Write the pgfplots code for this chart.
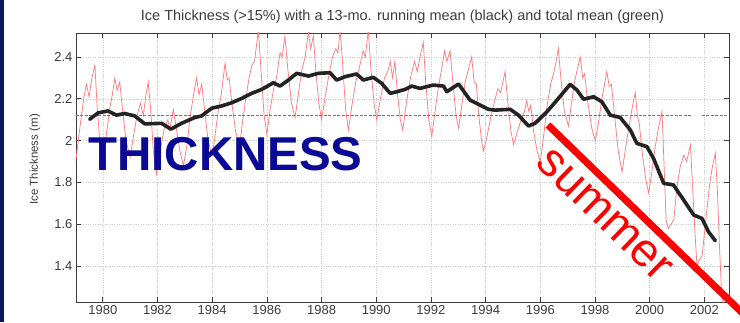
\documentclass[border=0pt]{standalone}
\usepackage{fontspec}
\setmainfont{Liberation Sans}
\usepackage{pgfplots}
\pgfplotsset{compat=1.18}
\definecolor{navy}{RGB}{8,24,96}
\definecolor{thick}{RGB}{10,10,150}
\definecolor{redline}{RGB}{255,125,125}
\definecolor{meanline}{RGB}{35,35,35}
\definecolor{greenline}{RGB}{40,170,60}
\definecolor{axgray}{RGB}{60,60,60}
\begin{document}
\begin{tikzpicture}
\useasboundingbox (-76pt,-20pt) rectangle (664pt,302pt);
\fill[white] (-76pt,-20pt) rectangle (664pt,302pt);
\fill[navy] (-76pt,-20pt) rectangle (-72pt,302pt);
\begin{axis}[
  scale only axis, width=653pt, height=269pt,
  xmin=1979.02, xmax=2002.9, ymin=1.228, ymax=2.515,
  axis line style={axgray, line width=0.9pt},
  tick style={axgray, line width=0.7pt},
  major tick length=5pt,
  tick align=inside,
  xtick={1980,1982,...,2002},
  ytick={1.4,1.6,1.8,2,2.2,2.4},
  /pgf/number format/assume math mode=true,
  x tick label style={/pgf/number format/1000 sep={}, font=\fontsize{13}{13}\selectfont, text=axgray},
  y tick label style={font=\fontsize{13}{13}\selectfont, text=axgray},
  grid=major, grid style={dotted, gray!40, line width=0.5pt},
  title={Ice Thickness (>15\%) with a 13-mo. running mean (black) and total mean (green)},
  title style={at={(0.5,1)}, anchor=base, yshift=6pt, font=\fontsize{14.5}{15}\selectfont, text=axgray},
  ylabel={Ice Thickness (m)},
  every axis y label/.style={at={(axis description cs:-0.063,0.53)}, anchor=center, rotate=90, font=\fontsize{11.5}{11.5}\selectfont, text=axgray},
]
\addplot[redline, line width=0.75pt] coordinates {
(1979.0,1.89) (1979.15,2.05) (1979.3,2.20) (1979.4,2.27) (1979.5,2.21) (1979.6,2.30) (1979.71,2.36) (1979.8,2.15) (1979.9,1.98) (1980.0,1.88)
(1980.12,2.02) (1980.25,2.15) (1980.35,2.22) (1980.44,2.30) (1980.52,2.24) (1980.62,2.28) (1980.72,2.15) (1980.85,2.00) (1981.0,1.92)
(1981.12,2.02) (1981.25,2.12) (1981.38,2.18) (1981.48,2.12) (1981.58,2.22) (1981.66,2.28) (1981.75,2.15) (1981.85,1.95) (1981.96,1.84)
(1982.1,1.95) (1982.25,2.06) (1982.38,2.10) (1982.45,2.05) (1982.58,2.15) (1982.7,2.05) (1982.82,1.95) (1982.95,1.88)
(1983.08,1.98) (1983.2,2.12) (1983.32,2.22) (1983.43,2.30) (1983.52,2.22) (1983.62,2.27) (1983.72,2.15) (1983.85,2.00) (1984.0,1.93)
(1984.1,2.02) (1984.22,2.14) (1984.33,2.22) (1984.47,2.37) (1984.55,2.29) (1984.62,2.30) (1984.72,2.18) (1984.85,2.05) (1985.0,1.97)
(1985.12,2.10) (1985.25,2.22) (1985.35,2.30) (1985.45,2.36) (1985.55,2.38) (1985.69,2.53) (1985.78,2.35) (1985.9,2.12) (1986.0,2.03)
(1986.12,2.15) (1986.25,2.25) (1986.35,2.30) (1986.48,2.42) (1986.56,2.40) (1986.66,2.50) (1986.76,2.35) (1986.9,2.18) (1987.03,2.11)
(1987.15,2.22) (1987.28,2.34) (1987.4,2.40) (1987.52,2.52) (1987.6,2.44) (1987.7,2.50) (1987.8,2.32) (1987.9,2.18) (1988.0,2.10)
(1988.12,2.20) (1988.25,2.30) (1988.4,2.40) (1988.52,2.44) (1988.6,2.42) (1988.68,2.53) (1988.78,2.35) (1988.88,2.15) (1988.98,2.05)
(1989.1,2.16) (1989.25,2.28) (1989.4,2.36) (1989.52,2.43) (1989.6,2.40) (1989.71,2.53) (1989.8,2.35) (1989.92,2.18) (1990.02,2.10)
(1990.15,2.20) (1990.3,2.30) (1990.42,2.33) (1990.51,2.38) (1990.6,2.30) (1990.68,2.38) (1990.78,2.22) (1990.88,2.10) (1990.97,2.05)
(1991.1,2.18) (1991.25,2.30) (1991.4,2.38) (1991.5,2.33) (1991.6,2.40) (1991.72,2.47) (1991.8,2.30) (1991.92,2.10) (1992.03,2.02)
(1992.15,2.14) (1992.28,2.26) (1992.4,2.35) (1992.5,2.43) (1992.58,2.38) (1992.7,2.43) (1992.8,2.28) (1992.92,2.12) (1993.01,2.06)
(1993.12,2.16) (1993.25,2.28) (1993.35,2.33) (1993.49,2.40) (1993.58,2.28) (1993.66,2.27) (1993.75,2.12) (1993.85,2.00) (1993.92,1.95)
(1994.05,2.02) (1994.2,2.12) (1994.35,2.20) (1994.45,2.25) (1994.55,2.23) (1994.71,2.33) (1994.8,2.20) (1994.92,2.05) (1995.02,1.98)
(1995.15,2.04) (1995.3,2.10) (1995.42,2.14) (1995.5,2.19) (1995.58,2.14) (1995.65,2.17) (1995.75,2.05) (1995.88,1.95) (1996.0,1.90)
(1996.12,2.02) (1996.25,2.17) (1996.38,2.27) (1996.5,2.33) (1996.58,2.38) (1996.66,2.44) (1996.75,2.30) (1996.88,2.14) (1997.03,2.07)
(1997.12,2.16) (1997.25,2.28) (1997.35,2.34) (1997.46,2.40) (1997.55,2.30) (1997.62,2.32) (1997.72,2.20) (1997.88,2.06) (1998.01,2.00)
(1998.12,2.08) (1998.25,2.20) (1998.35,2.27) (1998.43,2.33) (1998.52,2.26) (1998.6,2.27) (1998.7,2.14) (1998.85,1.95) (1998.99,1.85)
(1999.1,1.95) (1999.22,2.05) (1999.35,2.15) (1999.47,2.23) (1999.55,2.12) (1999.62,2.08) (1999.72,1.95) (1999.85,1.82) (1999.96,1.75)
(2000.08,1.85) (2000.2,1.97) (2000.32,2.06) (2000.45,2.14) (2000.52,1.90) (2000.6,1.62) (2000.68,1.58) (2000.78,1.60) (2000.88,1.62)
(2001.0,1.78) (2001.12,1.88) (2001.25,1.93) (2001.35,1.90) (2001.49,1.98) (2001.58,1.75) (2001.66,1.55) (2001.73,1.40) (2001.82,1.43) (2001.92,1.45)
(2002.05,1.62) (2002.2,1.80) (2002.3,1.88) (2002.4,1.94) (2002.48,1.75) (2002.55,1.50) (2002.62,1.30) (2002.68,1.22)
};
\addplot[greenline, line width=1pt, dash pattern=on 3pt off 1.5pt] coordinates {(1979.02,2.122) (2001.55,2.122)};
\addplot[greenline, line width=1pt, dash pattern=on 3pt off 1.5pt] coordinates {(2001.91,2.122) (2002.9,2.122)};
\addplot[meanline, line width=3.6pt, line join=round, line cap=round] coordinates {
(1979.52,2.102) (1979.83,2.133) (1980.19,2.142) (1980.5,2.122) (1980.8,2.13) (1981.17,2.118) (1981.54,2.08)
(1982.15,2.083) (1982.49,2.055) (1982.88,2.083) (1983.37,2.111) (1983.61,2.118) (1983.98,2.155) (1984.35,2.166)
(1984.71,2.181) (1985.08,2.202) (1985.44,2.226) (1985.81,2.245) (1986.24,2.277) (1986.48,2.261) (1986.79,2.29)
(1987.09,2.322) (1987.52,2.309) (1987.88,2.322) (1988.31,2.325) (1988.55,2.29) (1988.86,2.306) (1989.28,2.319)
(1989.53,2.29) (1989.89,2.303) (1990.2,2.274) (1990.51,2.226) (1990.75,2.234) (1991.05,2.245) (1991.3,2.261)
(1991.6,2.25) (1992.09,2.266) (1992.46,2.261) (1992.58,2.234) (1993.01,2.271) (1993.43,2.194) (1993.8,2.17)
(1994.1,2.15) (1994.35,2.146) (1994.9,2.15) (1995.2,2.122) (1995.57,2.07) (1995.81,2.083) (1996.24,2.138)
(1996.61,2.194) (1997.09,2.269) (1997.34,2.242) (1997.58,2.198) (1997.95,2.21) (1998.25,2.186) (1998.56,2.122)
(1998.92,2.111) (1999.29,2.051) (1999.53,1.987) (1999.9,1.971) (2000.14,1.915) (2000.51,1.796) (2000.87,1.788)
(2001.24,1.716) (2001.61,1.644) (2001.91,1.628) (2002.15,1.564) (2002.4,1.521)
};
\end{axis}
\node[anchor=base west, inner sep=0, text=thick, font=\fontsize{47.5}{50}\selectfont\bfseries] at (12pt,132pt) {THICKNESS};
\draw[red, line width=7pt] (472pt,177pt) -- (684pt,-28pt);
\node[rotate=-44, text=red, font=\fontsize{47}{50}\selectfont, inner sep=0] at (528pt,87pt) {summer};
\end{tikzpicture}
\end{document}
